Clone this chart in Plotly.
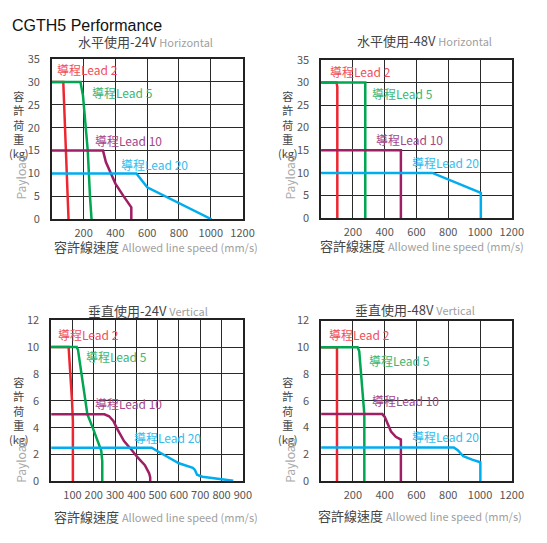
import plotly.graph_objects as go

W, H = 547, 543
CJK = "Noto Sans CJK TC"

# ---------------- data ----------------
# Panel 1: Horizontal 24V
h24_lead2_x = [0, 72, 105]
h24_lead2_y = [30, 30, 0]
h24_lead5_x = [0, 180, 196, 212, 226, 240, 250]
h24_lead5_y = [30, 30, 27, 20, 15, 5, 0]
h24_lead10_x = [0, 322, 340, 370, 400, 452, 500, 500]
h24_lead10_y = [15, 15, 12.5, 10, 7.8, 5, 2.6, 0]
h24_lead20_x = [0, 532, 600, 800, 1005]
h24_lead20_y = [10, 10, 7, 3.5, 0]

# Panel 2: Horizontal 48V
h48_lead2_x = [0, 97, 102, 102]
h48_lead2_y = [30, 30, 29, 0]
h48_lead5_x = [0, 278, 278]
h48_lead5_y = [30, 30, 0]
h48_lead10_x = [0, 502, 502]
h48_lead10_y = [15, 15, 0]
h48_lead20_x = [0, 700, 1005, 1005]
h48_lead20_y = [10, 10, 5.6, 0]

# Panel 3: Vertical 24V
v24_lead2_x = [0, 82, 98, 102, 102]
v24_lead2_y = [10, 10, 6, 4.5, 0]
v24_lead5_x = [0, 120, 126, 170, 195, 220, 235, 240, 240]
v24_lead5_y = [10, 10, 9.8, 5, 4, 3, 2.3, 1.5, 0]
v24_lead10_x = [0, 250, 272, 292, 312, 342, 380, 405, 440, 460, 465, 465]
v24_lead10_y = [5, 5, 4.85, 4.5, 3.85, 3.0, 2.3, 1.8, 1.2, 0.6, 0.3, 0]
v24_lead20_x = [0, 472, 510, 600, 665, 675, 685, 710, 855]
v24_lead20_y = [2.5, 2.5, 2.15, 1.35, 1.0, 0.85, 0.5, 0.35, 0.05]

# Panel 4: Vertical 48V
v48_lead2_x = [0, 100, 100]
v48_lead2_y = [10, 10, 0]
v48_lead5_x = [0, 230, 240, 265, 272, 272]
v48_lead5_y = [10, 10, 9.7, 6, 5, 0]
v48_lead10_x = [0, 385, 400, 415, 440, 470, 502, 502]
v48_lead10_y = [5, 5, 4.8, 4.4, 3.7, 3.3, 3.1, 0]
v48_lead20_x = [0, 835, 860, 895, 950, 1002, 1002]
v48_lead20_y = [2.5, 2.5, 2.3, 1.85, 1.6, 1.4, 0]

lead_names = ["導程Lead 2", "導程Lead 5", "導程Lead 10", "導程Lead 20"]

# label anchor points (data coords)
h24_label_x = [22, 240, 258, 423]
h24_label_y = [32.6, 27.6, 17.3, 12.0]
h48_label_x = [43, 310, 334, 562]
h48_label_y = [32.4, 27.5, 17.3, 12.3]
v24_label_x = [24, 155, 196, 380]
v24_label_y = [10.95, 9.3, 5.8, 3.3]
v48_label_x = [35, 288, 308, 560]
v48_label_y = [10.95, 9.0, 6.0, 3.3]

h_xticks = [200, 400, 600, 800, 1000, 1200]
h_yticks = [0, 5, 10, 15, 20, 25, 30, 35]
v24_xticks = [100, 200, 300, 400, 500, 600, 700, 800, 900]
v48_xticks = [200, 400, 600, 800, 1000, 1200]
v_yticks = [0, 2, 4, 6, 8, 10, 12]

panel_titles = ["水平使用-24V", "水平使用-48V", "垂直使用-24V", "垂直使用-48V"]
panel_sub = ["Horizontal", "Horizontal", "Vertical", "Vertical"]

line_colors = ["#ee2630", "#00a651", "#9e1f63", "#00aeef"]
label_colors = ["#f04e5a", "#3cb674", "#a4468a", "#33bdee"]

# ---------------- layout geometry (pixels) ----------------
panels = [
    dict(x0=53, x1=248, y0=51.5, y1=216.7, xr=[0, 1200], yr=[0, 35], xt=h_xticks, yt=h_yticks,
         lines=[(h24_lead2_x, h24_lead2_y), (h24_lead5_x, h24_lead5_y), (h24_lead10_x, h24_lead10_y), (h24_lead20_x, h24_lead20_y)],
         lx=h24_label_x, ly=h24_label_y, tx=149, ty=33, xtx=53, xty=245, yx=19, ytop=86, pay=173),
    dict(x0=328.3, x1=523.3, y0=52.3, y1=215.5, xr=[0, 1200], yr=[0, 35], xt=h_xticks, yt=h_yticks,
         lines=[(h48_lead2_x, h48_lead2_y), (h48_lead5_x, h48_lead5_y), (h48_lead10_x, h48_lead10_y), (h48_lead20_x, h48_lead20_y)],
         lx=h48_label_x, ly=h48_label_y, tx=434, ty=32, xtx=325, xty=244, yx=294, ytop=86, pay=173),
    dict(x0=52.3, x1=248.3, y0=320.7, y1=486.7, xr=[0, 900], yr=[0, 12], xt=v24_xticks, yt=v_yticks,
         lines=[(v24_lead2_x, v24_lead2_y), (v24_lead5_x, v24_lead5_y), (v24_lead10_x, v24_lead10_y), (v24_lead20_x, v24_lead20_y)],
         lx=v24_label_x, ly=v24_label_y, tx=151, ty=310.5, xtx=53, xty=523, yx=19, ytop=381, pay=465),
    dict(x0=328.3, x1=523.3, y0=321, y1=486.3, xr=[0, 1200], yr=[0, 12], xt=v48_xticks, yt=v_yticks,
         lines=[(v48_lead2_x, v48_lead2_y), (v48_lead5_x, v48_lead5_y), (v48_lead10_x, v48_lead10_y), (v48_lead20_x, v48_lead20_y)],
         lx=v48_label_x, ly=v48_label_y, tx=424, ty=310, xtx=323, xty=522, yx=294, ytop=381, pay=465),
]

fig = go.Figure()
annotations = []
layout = {}

def px(x):
    return x / W

def py(y):
    return 1 - y / H

for i, p in enumerate(panels):
    n = "" if i == 0 else str(i + 1)
    xa, ya = "x" + n, "y" + n
    for j, (xs, ys) in enumerate(p["lines"]):
        fig.add_trace(go.Scatter(x=xs, y=ys, mode="lines", xaxis=xa, yaxis=ya,
                                 line=dict(color=line_colors[j], width=2.5),
                                 showlegend=False, hoverinfo="skip"))
    layout["xaxis" + n] = dict(domain=[px(p["x0"]), px(p["x1"])], range=p["xr"], anchor=ya,
                               tickvals=p["xt"], ticktext=[str(v) for v in p["xt"]],
                               showgrid=True, gridcolor="#2a2a2a", gridwidth=1,
                               showline=True, linecolor="#222", linewidth=1.5, mirror=True,
                               zeroline=False, ticks="", ticklabelstandoff=3, tickangle=0,
                               tickfont=dict(family=CJK, size=11, color="#555"))
    layout["yaxis" + n] = dict(domain=[py(p["y1"]), py(p["y0"])], range=p["yr"], anchor=xa,
                               tickvals=p["yt"], ticktext=[str(v) for v in p["yt"]],
                               showgrid=True, gridcolor="#2a2a2a", gridwidth=1,
                               showline=True, linecolor="#222", linewidth=1.5, mirror=True,
                               zeroline=False, ticks="", ticklabelstandoff=8,
                               tickfont=dict(family=CJK, size=11, color="#555"))
    # lead labels
    for j in range(4):
        annotations.append(dict(x=p["lx"][j], y=p["ly"][j], xref=xa, yref=ya, text=lead_names[j],
                                showarrow=False, xanchor="left", yanchor="middle",
                                font=dict(family=CJK, size=12, color=label_colors[j])))
    # panel title
    annotations.append(dict(x=px(p["tx"]), y=py(p["ty"]), xref="paper", yref="paper",
                            text=panel_titles[i] + " <span style='font-size:11px;color:#a0a0a0'>" + panel_sub[i] + "</span>",
                            showarrow=False, xanchor="center", yanchor="middle",
                            font=dict(family=CJK, size=13, color="#444")))
    # x axis title
    annotations.append(dict(x=px(p["xtx"]), y=py(p["xty"]), xref="paper", yref="paper",
                            text="容許線速度 <span style='font-size:11px;color:#a0a0a0'>Allowed line speed (mm/s)</span>",
                            showarrow=False, xanchor="left", yanchor="middle",
                            font=dict(family=CJK, size=13, color="#444")))
    # y axis title (stacked characters)
    annotations.append(dict(x=px(p["yx"]), y=py(p["ytop"] - 7), xref="paper", yref="paper",
                            text="容<br>許<br>荷<br>重<br>(kg)", showarrow=False,
                            xanchor="center", yanchor="top", align="center",
                            font=dict(family=CJK, size=11, color="#444")))
    annotations.append(dict(x=px(p["yx"] + 2), y=py(p["pay"]), xref="paper", yref="paper",
                            text="Payload", showarrow=False, xanchor="center", yanchor="middle",
                            textangle=-90, font=dict(family=CJK, size=12, color="#aaaaaa")))

annotations.append(dict(x=px(10), y=py(17), xref="paper", yref="paper", text="CGTH5 Performance",
                        showarrow=False, xanchor="left", yanchor="middle",
                        font=dict(family="Liberation Sans", size=16, color="#111")))

fig.update_layout(width=W, height=H, margin=dict(l=0, r=0, t=0, b=0),
                  paper_bgcolor="white", plot_bgcolor="white",
                  annotations=annotations, **layout)

fig.write_html("out.html", post_script="document.body.style.margin='0';document.body.style.overflow='hidden';")
